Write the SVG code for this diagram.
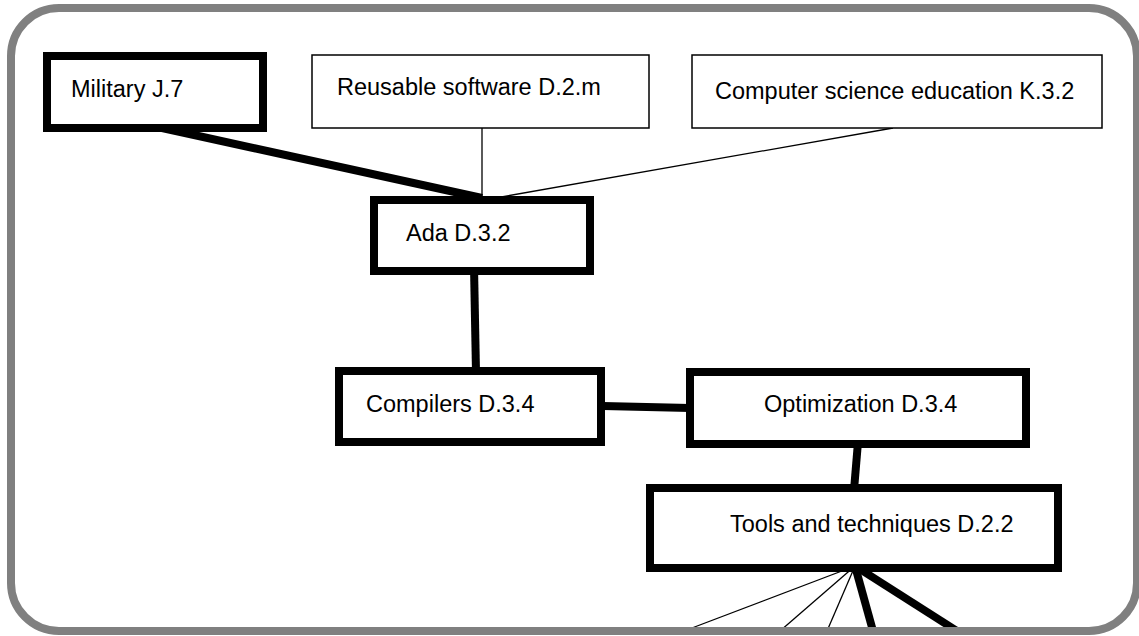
<svg xmlns="http://www.w3.org/2000/svg" width="1139" height="636" viewBox="0 0 1139 636">
<style>
.thick{fill:#fff;stroke:#000;stroke-width:8}
.thin{fill:#fff;stroke:#000;stroke-width:1.5}
.lbl{font-family:"Liberation Sans",Arial,sans-serif;font-size:23.5px;fill:#000}
.ct{stroke:#000;stroke-width:8;fill:none}
.cn{stroke:#000;stroke-width:1.3;fill:none}
</style>
<rect x="0" y="0" width="1139" height="636" fill="#fff"/>
<g id="connectors">
<line class="ct" x1="153" y1="126" x2="482" y2="198"/>
<line class="cn" x1="482" y1="128" x2="482" y2="200"/>
<line class="cn" x1="893" y1="128" x2="484" y2="200"/>
<line class="ct" x1="474" y1="266" x2="476" y2="373"/>
<line class="ct" x1="603" y1="406" x2="690" y2="408"/>
<line class="ct" x1="858" y1="442" x2="854" y2="490"/>
<line class="cn" x1="855" y1="566" x2="684" y2="631"/>
<line class="cn" x1="855" y1="566" x2="780" y2="631"/>
<line class="cn" x1="855" y1="566" x2="827" y2="631"/>
<line class="ct" x1="855" y1="566" x2="873" y2="631"/>
<line class="ct" x1="855" y1="566" x2="957" y2="631"/>
</g>
<g id="military"><rect class="thick" x="47" y="56" width="216" height="72"/><text class="lbl" x="71" y="97">Military J.7</text></g>
<g id="reusable"><rect class="thin" x="312" y="55" width="337" height="73"/><text class="lbl" x="337" y="95">Reusable software D.2.m</text></g>
<g id="cse"><rect class="thin" x="692" y="55" width="410" height="73"/><text class="lbl" x="715" y="99">Computer science education K.3.2</text></g>
<g id="ada"><rect class="thick" x="374" y="200" width="216" height="71"/><text class="lbl" x="406" y="241">Ada D.3.2</text></g>
<g id="compilers"><rect class="thick" x="339" y="371" width="262" height="71"/><text class="lbl" x="366" y="412">Compilers D.3.4</text></g>
<g id="optimization"><rect class="thick" x="690" y="372" width="336" height="72"/><text class="lbl" x="764" y="412">Optimization D.3.4</text></g>
<g id="tools"><rect class="thick" x="650" y="488" width="408" height="80"/><text class="lbl" x="730" y="532">Tools and techniques D.2.2</text></g>
<g id="frame">
<rect x="11" y="8" width="1126" height="623" rx="48" fill="none" stroke="#808080" stroke-width="8"/>
</g>
</svg>
